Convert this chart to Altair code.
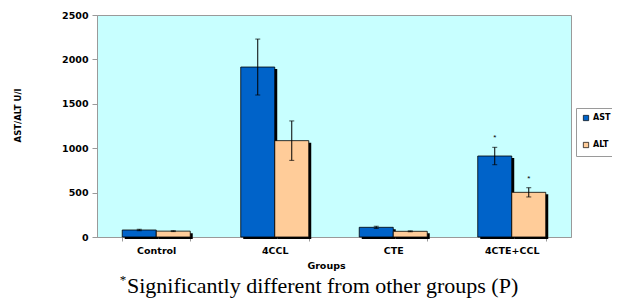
import altair as alt
import pandas as pd

groups = ["Control", "4CCL", "CTE", "4CTE+CCL"]
ast_mean = [79, 1914, 109, 912]
ast_err = [8, 315, 12, 98]
alt_mean = [66, 1085, 64, 503]
alt_err = [5, 222, 5, 52]
ast_star = ["", "", "", "*"]
alt_star = ["", "", "", "*"]
series = ["AST", "ALT"]
colors = ["#0063C9", "#FFCC99"]
y_ticks = [0, 500, 1000, 1500, 2000, 2500]
caption = "Significantly different from other groups (P)"

rows = []
for i, g in enumerate(groups):
    rows.append({"group": g, "series": "AST", "value": ast_mean[i],
                 "lower": ast_mean[i] - ast_err[i], "upper": ast_mean[i] + ast_err[i],
                 "star": ast_star[i]})
    rows.append({"group": g, "series": "ALT", "value": alt_mean[i],
                 "lower": alt_mean[i] - alt_err[i], "upper": alt_mean[i] + alt_err[i],
                 "star": alt_star[i]})
df = pd.DataFrame(rows)

x_enc = alt.X("group:N", sort=groups,
              scale=alt.Scale(paddingInner=0.426, paddingOuter=0.213),
              axis=alt.Axis(title="Groups", labelAngle=0, tickBand="extent",
                            tickSize=4, labelPadding=4, titleX=229, titleY=28,
                            titleBaseline="middle"))
y_scale = alt.Scale(domain=[0, 2500], nice=False)
y_axis = alt.Axis(title="AST/ALT U/l", values=y_ticks, format="d", grid=False, tickSize=5,
                  labelPadding=4, titleAngle=270, titleX=-80, titleY=100,
                  titleAlign="center", titleBaseline="middle", titleFontSize=8.5)
xo = alt.XOffset("series:N", sort=series)

base = alt.Chart(df)

shadow = base.mark_bar(color="black", yOffset=2).encode(
    x=x_enc,
    xOffset=alt.XOffset("series:N", sort=series, scale=alt.Scale(range=[2.5, 70.5])),
    y=alt.Y("value:Q", scale=y_scale, axis=y_axis),
)

bars = base.mark_bar(stroke="black", strokeWidth=0.8).encode(
    x=x_enc,
    xOffset=xo,
    y=alt.Y("value:Q", scale=y_scale, axis=y_axis),
    color=alt.Color("series:N", sort=series,
                    scale=alt.Scale(domain=series, range=colors),
                    legend=alt.Legend(title=None, orient="none", legendX=479, legendY=93,
                                      padding=6, strokeColor="#9a9a9a", fillColor="white",
                                      symbolType="square", symbolSize=28,
                                      symbolStrokeColor="black", symbolStrokeWidth=0.7,
                                      labelFont="DejaVu Sans", labelFontWeight="bold",
                                      labelFontSize=8, rowPadding=17, labelOffset=3)),
)

err = base.mark_rule(color="black", strokeWidth=1).encode(
    x=x_enc, xOffset=xo, y="lower:Q", y2="upper:Q")
cap_hi = base.mark_tick(color="black", size=5, thickness=1).encode(
    x=x_enc, xOffset=xo, y="upper:Q")
cap_lo = base.mark_tick(color="black", size=5, thickness=1).encode(
    x=x_enc, xOffset=xo, y="lower:Q")
stars = base.mark_text(fontSize=8, dy=-9, color="black").encode(
    x=x_enc, xOffset=xo, y="upper:Q", text="star:N")

cap_df = pd.DataFrame({"t": [caption]})
cap_text = alt.Chart(cap_df).mark_text(font="Liberation Serif", fontSize=22, align="left",
                                       baseline="alphabetic", color="black").encode(
    x=alt.value(30), y=alt.value(278), text="t:N")
cap_star = alt.Chart(pd.DataFrame({"t": ["*"]})).mark_text(
    font="Liberation Serif", fontSize=13, align="center", baseline="middle",
    color="black").encode(x=alt.value(26), y=alt.value(265), text="t:N")

chart = alt.layer(shadow, bars, err, cap_hi, cap_lo, stars, cap_text, cap_star).resolve_scale(
    xOffset="independent"
).properties(
    width=474, height=222,
    autosize=alt.AutoSizeParams(type="none"),
    padding={"left": 89, "top": 7, "right": 41, "bottom": 63},
    background="white",
).configure_view(
    fill="#C8FFFF", stroke="#9a9a9a", strokeWidth=1
).configure_axis(
    labelFont="DejaVu Sans", labelFontWeight="bold", labelFontSize=9.5, labelColor="black",
    titleFont="DejaVu Sans", titleFontWeight="bold", titleFontSize=9.5, titleColor="black",
    domainColor="#9a9a9a", tickColor="#9a9a9a",
)

chart.save("out.html", embed_options={"renderer": "svg", "actions": False})
